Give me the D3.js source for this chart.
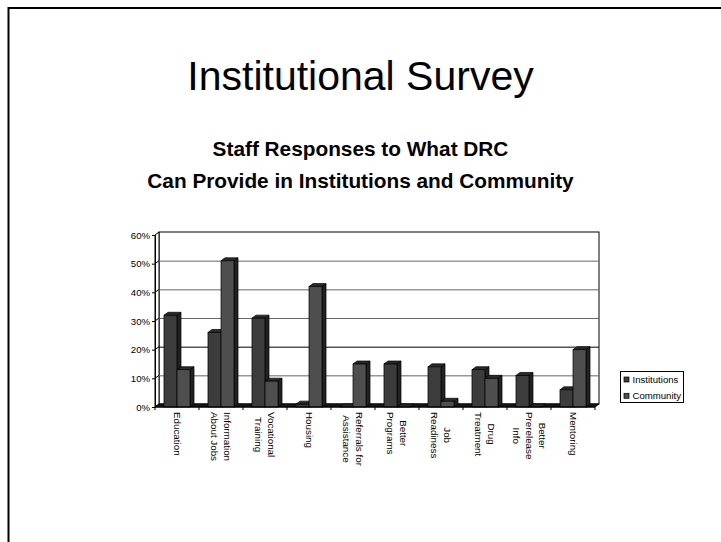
<!DOCTYPE html>
<html><head><meta charset="utf-8">
<script src="https://cdn.jsdelivr.net/npm/d3@7/dist/d3.min.js"></script>
<style>html,body{margin:0;padding:0;background:#fff}svg{display:block}text{font-family:"Liberation Sans",Arial,sans-serif;fill:#000}</style>
</head><body><div id="c"></div>
<script>
const categories=[["Education"],["Information","About Jobs"],["Vocational","Training"],["Housing"],["Referrals for","Assistance"],["Better","Programs"],["Job","Readiness"],["Drug","Treatment"],["Better","Prerelease","Info"],["Mentoring"]];
const institutions=[32,26,31,1,0,15,14,13,11,6];
const community=[13,51,9,42,15,0,2,10,0,20];
const seriesNames=["Institutions","Community"];
const seriesColors=["#3c3c3c","#4e4e4e"];
const yTicks=[0,10,20,30,40,50,60];

const W=721,H=542,dx=4,dy=3;
const svg=d3.select("#c").append("svg").attr("width",W).attr("height",H);
svg.append("path").attr("d","M8.5,542V8H721").attr("fill","none").attr("stroke","#000").attr("stroke-width",2);
svg.append("text").attr("x",360.5).attr("y",90).attr("text-anchor","middle").attr("font-size",41).text("Institutional Survey");
svg.append("text").attr("x",360.5).attr("y",156).attr("text-anchor","middle").attr("font-size",20.8).attr("font-weight","bold").text("Staff Responses to What DRC");
svg.append("text").attr("x",360.5).attr("y",188).attr("text-anchor","middle").attr("font-size",20.8).attr("font-weight","bold").text("Can Provide in Institutions and Community");

const idx=categories.map((d,i)=>i);
const x=d3.scaleBand().domain(idx).range([155,595]);
const y=d3.scaleLinear().domain([0,60]).range([407,235]);
const g=svg.append("g");
const x0=x.range()[0],x1=x.range()[1],y0=y(0),yT=y(60);
g.append("rect").attr("x",x0+dx).attr("y",yT-dy).attr("width",x1-x0).attr("height",y0-yT).attr("fill","#fff").attr("stroke","#000");
g.append("path").attr("d",`M${x0},${y0}V${yT}L${x0+dx},${yT-dy}V${y0-dy}Z`).attr("fill","#fff").attr("stroke","#000").attr("stroke-width",1);
g.selectAll("line.g").data(yTicks.slice(1,-1)).join("line")
 .attr("x1",x0+dx).attr("x2",x1+dx).attr("y1",d=>y(d)-dy+.5).attr("y2",d=>y(d)-dy+.5)
 .attr("stroke",d=>d===20?"#000":"#666").attr("stroke-width",1);
g.selectAll("path.gs").data(yTicks.slice(1,-1)).join("path")
 .attr("d",d=>`M${x0},${y(d)}L${x0+dx},${y(d)-dy}`).attr("stroke","#000").attr("fill","none");
g.append("path").attr("d",`M${x0},${y0}L${x0+dx},${y0-dy}H${x1+dx}L${x1},${y0}Z`).attr("fill","#1a1a1a").attr("stroke","#000");
const inner=d3.scaleBand().domain([0,1]).range([0,x.bandwidth()]).paddingInner(0).paddingOuter(0.69);
const series=[institutions,community];
const bars=[];
idx.forEach(i=>series.forEach((s,k)=>bars.push({i,k,v:s[i]})));
const bg=g.selectAll("g.b").data(bars).join("g");
bg.each(function(d){
  const s=d3.select(this),l=x(d.i)+inner(d.k),w=inner.bandwidth(),t=y(d.v),b=y(0);
  s.append("path").attr("d",`M${l+w},${b}V${t}l${dx},${-dy}V${b-dy}Z`).attr("fill","#222").attr("stroke","#000").attr("stroke-width",.7);
  s.append("path").attr("d",`M${l},${t}l${dx},${-dy}h${w}l${-dx},${dy}Z`).attr("fill","#2a2a2a").attr("stroke","#000").attr("stroke-width",.7);
  s.append("rect").attr("x",l).attr("y",t).attr("width",w).attr("height",b-t).attr("fill",seriesColors[d.k]).attr("stroke","#000").attr("stroke-width",.7);
});
const ya=d3.axisLeft(y).tickValues(yTicks).tickSize(3).tickFormat(d=>d+"%");
const yg=svg.append("g").attr("transform",`translate(${x0},0)`).call(ya);
yg.selectAll("text").attr("font-size",9.6).attr("dx",1).style("font-family",'"Liberation Sans"').attr("fill","#000");
yg.select(".domain").attr("stroke","#000");
const tickPos=d3.range(0,11).map(i=>x0+i*x.bandwidth());
svg.append("line").attr("x1",x0).attr("x2",x1).attr("y1",y0).attr("y2",y0).attr("stroke","#000");
svg.selectAll("line.t").data(tickPos).join("line").attr("x1",d=>d).attr("x2",d=>d).attr("y1",y0).attr("y2",y0+3).attr("stroke","#000");
const lh=13;
const cg=svg.selectAll("g.c").data(idx).join("g");
cg.each(function(i){
  const lines=categories[i],cx=x(i)+x.bandwidth()/2,sel=d3.select(this);
  const nodes=lines.map((t,k)=>sel.append("text").attr("font-size",9.8).attr("text-anchor","middle").attr("dy","0.32em").text(t));
  const maxW=d3.max(nodes,n=>n.node().getComputedTextLength());
  nodes.forEach((n,k)=>{
    const off=((lines.length-1)/2-k)*lh;
    n.attr("transform",`translate(${cx+off},${412+maxW/2})rotate(90)`);
  });
});
const lg=svg.append("g");
lg.append("rect").attr("x",620.5).attr("y",371.5).attr("width",63).attr("height",31).attr("fill","#fff").attr("stroke","#000");
seriesNames.forEach((n,k)=>{
  const yy=379.5+k*16.3;
  lg.append("rect").attr("x",624).attr("y",yy-2.5).attr("width",5).attr("height",5).attr("fill",seriesColors[k]).attr("stroke","#000").attr("stroke-width",.7);
  lg.append("text").attr("x",632.5).attr("y",yy+3.5).attr("font-size",9.6).text(n);
});
</script></body></html>
